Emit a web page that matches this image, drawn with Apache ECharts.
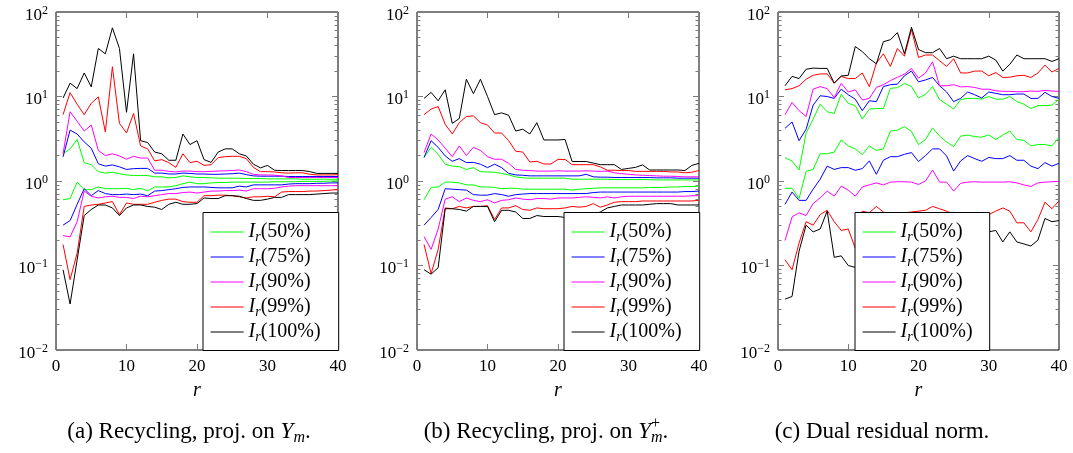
<!DOCTYPE html>
<html><head><meta charset="utf-8">
<script src="https://cdn.jsdelivr.net/npm/echarts@6/dist/echarts.min.js"></script>
<style>html,body{margin:0;padding:0;background:#fff}#c{width:1073px;height:453px}</style>
</head><body><div id="c"></div>
<script>
// ---------------- data ----------------
const rVals = [1,2,3,4,5,6,7,8,9,10,11,12,13,14,15,16,17,18,19,20,21,22,23,24,25,26,27,28,29,30,31,32,33,34,35,36,37,38,39,40];
const percents = ['50%','75%','90%','99%','100%'];
const colors = ['#00ff00','#0000ff','#ff00ff','#ff0000','#000000'];
const xTicks = [0,10,20,30,40];
const yTicks = [0.01,0.1,1,10,100];
const captions = ['(a) Recycling, proj. on ','(b) Recycling, proj. on ','(c) Dual residual norm.'];

// Panel (a)
const aHi50  = [2.1,2.4,3.1,1.65,1.56,1.29,1.24,1.27,1.22,1.18,1.16,1.16,1.16,1.12,1.12,1.09,1.1,1.15,1.12,1.1,1.1,1.09,1.08,1.08,1.08,1.08,1.07,1.07,1.07,1.06,1.06,1.06,1.06,1.06,1.05,1.05,1.05,1.05,1.05,1.05];
const aHi75  = [1.93,4.0,3.6,2.9,2.44,1.6,1.5,1.55,1.47,1.37,1.4,1.41,1.41,1.24,1.24,1.21,1.21,1.24,1.23,1.21,1.21,1.2,1.2,1.21,1.22,1.24,1.19,1.15,1.14,1.14,1.14,1.14,1.13,1.13,1.13,1.13,1.13,1.13,1.13,1.13];
const aHi90  = [2.1,6.6,5.1,3.9,4.6,2.3,2.0,2.1,1.98,1.81,1.96,1.87,1.87,1.34,1.34,1.30,1.28,1.31,1.31,1.29,1.29,1.3,1.31,1.32,1.33,1.35,1.29,1.2,1.18,1.18,1.17,1.15,1.1,1.1,1.1,1.1,1.1,1.1,1.1,1.1];
const aHi99  = [6.1,11.1,8.1,6.1,8.3,9.9,3.8,22.5,4.8,3.7,6.3,2.6,2.4,1.73,1.79,1.65,1.45,2.1,1.65,1.71,1.53,1.56,1.89,1.94,1.96,1.96,1.84,1.45,1.29,1.29,1.28,1.25,1.24,1.25,1.25,1.2,1.18,1.18,1.18,1.19];
const aHi100 = [9.6,14.4,12.4,19,13,37,32,65,37,6.5,32,3.0,2.85,2.2,2.1,1.76,1.76,3.6,2.7,3.0,1.79,1.66,2.2,2.4,2.4,2.1,1.98,1.58,1.43,1.53,1.34,1.33,1.33,1.33,1.33,1.29,1.23,1.23,1.23,1.23];
const aLo50  = [0.6,0.62,0.97,0.79,0.79,0.85,0.81,0.81,0.81,0.82,0.79,0.82,0.765,0.85,0.85,0.85,0.88,0.93,0.97,0.93,0.93,0.95,0.96,0.96,0.97,0.97,0.97,0.97,0.97,0.97,0.98,0.98,0.98,0.98,0.99,0.99,0.99,0.99,1.0,1.0];
const aLo75  = [0.3,0.34,0.53,0.81,0.67,0.77,0.71,0.69,0.69,0.7,0.69,0.7,0.67,0.76,0.77,0.79,0.81,0.84,0.85,0.85,0.85,0.84,0.83,0.83,0.83,0.87,0.85,0.9,0.9,0.9,0.9,0.9,0.92,0.93,0.93,0.93,0.94,0.94,0.95,0.95];
const aLo90  = [0.226,0.218,0.33,0.76,0.66,0.63,0.65,0.66,0.64,0.64,0.62,0.66,0.65,0.67,0.69,0.71,0.71,0.73,0.74,0.72,0.74,0.76,0.76,0.77,0.77,0.78,0.76,0.81,0.81,0.81,0.82,0.85,0.87,0.88,0.88,0.88,0.88,0.88,0.88,0.88];
const aLo99  = [0.177,0.068,0.14,0.5,0.52,0.53,0.55,0.57,0.4,0.55,0.53,0.53,0.53,0.56,0.59,0.61,0.61,0.57,0.56,0.56,0.67,0.67,0.68,0.68,0.67,0.65,0.63,0.65,0.65,0.66,0.65,0.74,0.75,0.75,0.75,0.76,0.76,0.77,0.78,0.79];
const aLo100 = [0.089,0.035,0.117,0.39,0.46,0.52,0.52,0.48,0.39,0.48,0.52,0.52,0.5,0.49,0.46,0.53,0.56,0.53,0.53,0.54,0.63,0.62,0.62,0.67,0.67,0.66,0.62,0.59,0.59,0.61,0.64,0.64,0.69,0.69,0.69,0.69,0.7,0.71,0.72,0.72];

// Panel (b)
const bHi50  = [1.9,2.5,2.07,1.58,1.5,1.48,1.37,1.44,1.29,1.28,1.27,1.23,1.18,1.12,1.09,1.08,1.08,1.08,1.08,1.08,1.08,1.05,1.05,1.05,1.05,1.05,1.05,1.04,1.04,1.04,1.04,1.04,1.04,1.03,1.03,1.03,1.03,1.03,1.03,1.03];
const bHi75  = [1.9,3.0,2.5,1.98,1.71,1.84,1.65,1.66,1.58,1.44,1.58,1.44,1.23,1.18,1.17,1.15,1.15,1.15,1.15,1.15,1.15,1.15,1.15,1.2,1.12,1.11,1.11,1.1,1.1,1.1,1.1,1.1,1.1,1.09,1.09,1.09,1.08,1.08,1.08,1.08];
const bHi90  = [2.17,3.6,3.06,2.44,1.94,2.6,2.0,2.5,2.3,1.94,1.81,1.81,1.62,1.37,1.34,1.33,1.31,1.31,1.31,1.32,1.31,1.31,1.31,1.32,1.31,1.3,1.31,1.25,1.22,1.2,1.18,1.17,1.16,1.15,1.14,1.14,1.13,1.12,1.12,1.12];
const bHi99  = [6.1,7.1,7.6,4.7,3.6,4.9,5.8,5.9,4.9,4.6,3.7,3.7,3.0,2.25,2.2,1.68,1.71,1.59,1.59,1.8,1.8,1.56,1.56,1.56,1.56,1.47,1.34,1.34,1.33,1.33,1.3,1.3,1.3,1.3,1.3,1.28,1.28,1.25,1.27,1.33];
const bHi100 = [9.5,11.2,8.9,12,4.8,5.5,16,10.8,16,10,6.1,6.4,6.0,3.9,4.1,3.6,4.9,3.06,3.06,3.06,3.1,1.7,1.7,1.7,1.63,1.56,1.56,1.56,1.37,1.41,1.45,1.55,1.35,1.35,1.35,1.35,1.35,1.33,1.53,1.62];
const bLo50  = [0.6,0.84,0.85,0.97,0.97,0.95,0.9,0.9,0.85,0.85,0.84,0.81,0.82,0.82,0.8,0.8,0.8,0.8,0.8,0.8,0.8,0.78,0.8,0.81,0.82,0.83,0.83,0.83,0.83,0.83,0.83,0.83,0.84,0.84,0.84,0.85,0.85,0.86,0.86,0.87];
const bLo75  = [0.3,0.37,0.46,0.81,0.8,0.79,0.78,0.69,0.68,0.68,0.71,0.69,0.66,0.69,0.7,0.71,0.71,0.71,0.71,0.71,0.71,0.71,0.71,0.71,0.73,0.74,0.74,0.74,0.74,0.74,0.74,0.74,0.74,0.74,0.74,0.74,0.74,0.75,0.75,0.76];
const bLo90  = [0.22,0.155,0.27,0.61,0.65,0.57,0.63,0.59,0.57,0.6,0.55,0.59,0.6,0.63,0.61,0.6,0.62,0.62,0.61,0.63,0.63,0.63,0.64,0.65,0.64,0.63,0.65,0.63,0.65,0.66,0.66,0.66,0.66,0.66,0.66,0.66,0.66,0.66,0.67,0.67];
const bLo99  = [0.177,0.08,0.155,0.48,0.47,0.5,0.48,0.5,0.5,0.51,0.35,0.48,0.48,0.51,0.46,0.45,0.48,0.47,0.47,0.47,0.48,0.5,0.49,0.5,0.54,0.49,0.52,0.56,0.57,0.57,0.57,0.58,0.58,0.58,0.58,0.58,0.58,0.58,0.58,0.59];
const bLo100 = [0.089,0.079,0.094,0.47,0.47,0.46,0.44,0.5,0.5,0.5,0.33,0.45,0.45,0.43,0.36,0.36,0.39,0.38,0.38,0.38,0.37,0.38,0.38,0.39,0.4,0.43,0.48,0.5,0.52,0.52,0.52,0.52,0.53,0.54,0.54,0.54,0.52,0.52,0.52,0.52];

// Panel (c)
const cHi50  = [1.89,1.72,1.35,3.7,5.4,8.1,6.6,6.3,10.6,8.3,7.8,5.4,7.1,7.2,7.2,12.5,12.7,14.3,13.1,9.6,10.6,13.1,9.2,8.1,7.1,9.2,9.5,9.5,9.3,10,9.3,9.3,10,8.7,8.1,7.2,7.8,7.8,7.9,9.3];
const cHi75  = [4.2,5.0,3.0,4.1,7.9,10.2,10,9.5,12.2,10.5,9.3,6.8,8.9,8.7,13.1,13.8,14,17.6,20,14.9,15.7,16.8,13.4,11.3,8.7,9.5,11.3,10.5,9.6,11.3,10.9,10.5,10.5,10.7,10.7,9.5,9.5,11.2,10,9.5];
const cHi90  = [6.1,8.5,6.8,5.8,12.2,13.1,12.4,9.7,14.3,11.3,12,9.1,9.5,12.8,13.8,15.4,16.9,18.4,21.5,16.5,19,25.8,13.4,13.4,13.8,13,13.1,12.8,12.2,12.2,11.7,11.5,11.5,11.4,11.4,11.6,11.5,11.8,11.6,11.5];
const cHi99  = [12,12.4,13.4,16,17.8,18.5,18.5,14.4,17.3,16.3,16.3,19,13.1,24.8,32,22.7,37,30,62,29,31,31,26.5,22.7,28,19,19,20,20,17.6,19.2,16.8,16.9,17.6,17.8,16.8,19,23.5,19.5,21.5];
const cHi100 = [13.4,17.3,16.3,21,21.7,21.5,21.5,14.4,17.5,17.8,39,34,28,24.4,44.5,47,57,32,66,36,33,33,37,28,30,28,28,28,28,30,27,20,24,31,28,28,28,28,26,28];
const cLo50  = [0.82,0.82,0.62,1.3,1.37,2.1,2.1,2.2,3.06,2.6,2.4,2.05,2.6,2.3,2.4,3.9,4.0,4.4,3.85,2.7,3.1,4.25,3.4,2.9,2.55,3.4,3.5,3.35,3.3,3.5,3.1,3.5,3.9,3.1,3.03,2.6,2.7,2.7,2.6,3.3];
const cLo75  = [0.53,0.74,0.59,0.59,0.8,1.05,1.5,1.37,1.44,1.44,1.34,1.4,1.73,1.2,1.76,1.94,1.94,2.07,2.17,1.7,2.0,2.4,2.4,1.98,1.31,1.73,2.0,1.84,1.71,1.9,1.84,1.84,2.0,1.76,1.76,1.5,1.4,1.65,1.5,1.62];
const cLo90  = [0.197,0.376,0.42,0.39,0.54,0.63,0.76,0.66,0.87,0.78,0.66,0.85,0.9,0.95,0.9,0.97,0.98,0.98,0.97,0.91,1.0,1.35,0.97,0.97,0.76,0.94,0.97,0.98,0.97,0.97,0.97,0.97,0.98,0.95,0.9,0.86,0.95,0.97,0.98,0.99];
const cLo99  = [0.117,0.089,0.185,0.33,0.3,0.4,0.45,0.33,0.26,0.27,0.16,0.44,0.42,0.5,0.43,0.4,0.38,0.42,0.43,0.44,0.45,0.5,0.47,0.44,0.4,0.38,0.35,0.36,0.37,0.4,0.44,0.48,0.44,0.32,0.32,0.25,0.35,0.56,0.47,0.58];
const cLo100 = [0.04,0.043,0.148,0.3,0.25,0.27,0.44,0.125,0.13,0.1,0.095,0.1,0.12,0.15,0.13,0.18,0.2,0.17,0.2,0.22,0.25,0.3,0.22,0.2,0.25,0.24,0.22,0.2,0.22,0.25,0.26,0.19,0.25,0.19,0.18,0.17,0.2,0.36,0.33,0.34];

// ---------------- layout / style ----------------
const FONT = 'Liberation Serif';
const TICK = '#7a7a7a';
const grids = [
  {left:56, top:12, width:282, height:338},
  {left:417, top:12, width:282, height:338},
  {left:778, top:12, width:281, height:338}
];
const legendLeft = [203, 564, 855];
const legendPadR = [18, 18, 17];
const panels = [
  {hi:[aHi50,aHi75,aHi90,aHi99,aHi100], lo:[aLo50,aLo75,aLo90,aLo99,aLo100]},
  {hi:[bHi50,bHi75,bHi90,bHi99,bHi100], lo:[bLo50,bLo75,bLo90,bLo99,bLo100]},
  {hi:[cHi50,cHi75,cHi90,cHi99,cHi100], lo:[cLo50,cLo75,cLo90,cLo99,cLo100]}
];
const minorVals = [];
for (let d = -2; d < 2; d++) for (let k = 2; k <= 9; k++) minorVals.push(d + Math.log10(k));

const xAxis = [], yAxis = [], series = [], legend = [];
grids.forEach((g, gi) => {
  xAxis.push({type:'value', gridIndex:gi, min:0, max:40, interval:10, position:'bottom',
    axisLine:{show:false, onZero:false}, axisTick:{inside:true, length:6, lineStyle:{color:TICK}},
    axisLabel:{fontFamily:FONT, fontSize:17, color:'#000', margin:8},
    splitLine:{show:false},
    name:'r', nameLocation:'middle', nameGap:31,
    nameTextStyle:{fontFamily:FONT, fontStyle:'italic', fontSize:20, color:'#000'}});
  xAxis.push({type:'value', gridIndex:gi, min:0, max:40, interval:10, position:'top',
    axisLine:{show:false, onZero:false}, axisTick:{inside:true, length:6, lineStyle:{color:TICK}},
    axisLabel:{show:false}, splitLine:{show:false}});
  yAxis.push({type:'log', logBase:10, gridIndex:gi, min:0.01, max:100, position:'left',
    axisLine:{show:false, onZero:false}, axisTick:{inside:true, length:6, lineStyle:{color:TICK}},
    axisLabel:{margin:8, padding:[7,0,0,0], fontFamily:FONT,
      formatter: v => { const e = Math.round(Math.log10(v)); return '{b|10}{e|' + (e < 0 ? '\u2212' + (-e) : e) + '}'; },
      rich:{
        b:{fontFamily:FONT, fontSize:17, color:'#000', lineHeight:22},
        e:{fontFamily:FONT, fontSize:12, color:'#000', lineHeight:12, verticalAlign:'top'}
      }},
    splitLine:{show:false}});
  yAxis.push({type:'log', logBase:10, gridIndex:gi, min:0.01, max:100, position:'right',
    axisLine:{show:false, onZero:false}, axisTick:{inside:true, length:6, lineStyle:{color:TICK}},
    axisLabel:{show:false}, splitLine:{show:false}});
  ['left','right'].forEach(pos => yAxis.push({type:'value', gridIndex:gi, min:-2, max:2, position:pos,
    axisLine:{show:false, onZero:false}, axisTick:{inside:true, length:3.5, customValues:minorVals, lineStyle:{color:TICK}},
    axisLabel:{show:false}, splitLine:{show:false}}));

  const P = panels[gi];
  percents.forEach((p, pi) => {
    [P.hi[pi], P.lo[pi]].forEach(arr => {
      series.push({type:'line', name:p, xAxisIndex:gi*2, yAxisIndex:gi*4,
        data: rVals.map((x, i) => [x, arr[i]]),
        symbol:'none', showSymbol:false, silent:true, animation:false,
        color: colors[pi],
        lineStyle:{width:1, color:colors[pi]}, itemStyle:{color:colors[pi]}});
    });
  });

  legend.push({data:percents.map((p, pi) => ({name:p, lineStyle:{color:colors[pi], width:1.2}})),
    orient:'vertical', left:legendLeft[gi], top:212.5,
    padding:[7,legendPadR[gi],6,7], itemGap:0, itemWidth:33, itemHeight:14,
    itemStyle:{opacity:0, borderWidth:0},
    backgroundColor:'#fff', borderColor:'#000', borderWidth:1, borderRadius:0,
    selectedMode:false, z:10,
    formatter: n => '{i|I}{s|r}{t|(' + n + ')}',
    textStyle:{color:'#000', fontFamily:FONT, fontSize:20, lineHeight:25,
      rich:{
        i:{fontFamily:FONT, fontSize:20, fontStyle:'italic', color:'#000', lineHeight:25},
        s:{fontFamily:FONT, fontSize:14, fontStyle:'italic', color:'#000', lineHeight:14, verticalAlign:'bottom'},
        t:{fontFamily:FONT, fontSize:20, color:'#000', lineHeight:25}
      }}});
});

// ---------------- captions (graphic text) ----------------
const cv = document.createElement('canvas').getContext('2d');
function measure(t, size, italic) { cv.font = (italic ? 'italic ' : '') + size + 'px ' + FONT; return cv.measureText(t).width; }
function caption(cx, cy, parts) {
  let total = 0; const placed = [];
  parts.forEach(p => {
    const w = measure(p.t, p.s, p.it);
    if (p.stack) { const prev = placed[placed.length-1]; placed.push({p, x:prev.x}); total = Math.max(total, prev.x + Math.max(w, prev.w)); prev.w = Math.max(w, prev.w); }
    else { placed.push({p, x: total, w}); total += w; }
  });
  const x0 = cx - total / 2;
  return placed.map(o => ({type:'text', silent:true,
    x: x0 + o.x, y: cy + (o.p.dy || 0),
    style:{text:o.p.t, fontFamily:FONT, fontSize:o.p.s, fontStyle:o.p.it ? 'italic' : 'normal', fill:'#000', verticalAlign:'middle', align:'left'}}));
}
const CS = 23, SS = 16;
const graphic = [].concat(
  caption(189, 432, [{t:captions[0], s:CS}, {t:'Y', s:CS, it:true}, {t:'m', s:SS, it:true, dy:6}, {t:'.', s:CS}]),
  caption(546, 432, [{t:captions[1], s:CS}, {t:'Y', s:CS, it:true}, {t:'m', s:SS, it:true, dy:6}, {t:'+', s:SS, dy:-8, stack:true}, {t:'.', s:CS}]),
  caption(882, 432, [{t:captions[2], s:CS}])
);

const chart = echarts.init(document.getElementById('c'), null, {renderer:'canvas'});
chart.setOption({
  animation:false, backgroundColor:'#fff',
  grid: grids.map(g => Object.assign({show:true, borderColor:'#000', borderWidth:1, backgroundColor:'transparent'}, g)),
  xAxis, yAxis, series, legend, graphic
});
</script></body></html>
